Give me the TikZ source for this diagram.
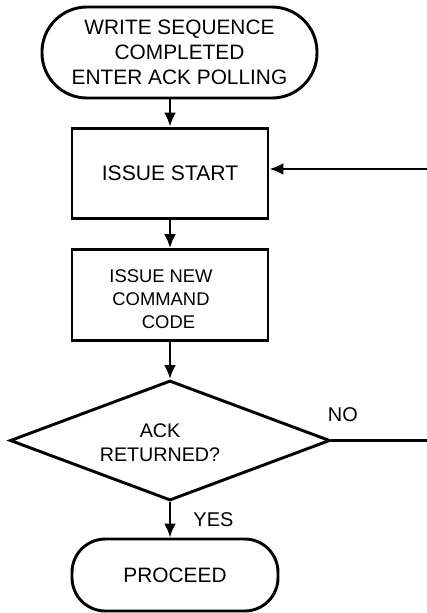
\documentclass[tikz,border=0pt]{standalone}
\usepackage{fontspec}
\setmainfont{Liberation Sans}
\usetikzlibrary{shapes.geometric,arrows.meta}

\tikzset{
	terminal/.style={draw, rectangle, align=center},
	process/.style={draw, rectangle, minimum width=5.88cm, minimum height=2.72cm},
	decision/.style={draw, diamond, inner sep=0pt, minimum width=9.6cm, minimum height=3.6cm},
	answer/.style={inner sep=0pt, font=\fontsize{17}{20}\selectfont},
}

\begin{document}
\begin{tikzpicture}[x=0.03cm,y=-0.03cm, line width=2.5pt, >={Latex[length=0.42cm,width=0.36cm]}]
	\useasboundingbox (0,0) rectangle (427,613);
	\node[terminal, rounded corners=1.35cm, minimum width=8.25cm, minimum height=2.73cm, font=\fontsize{17.8}{21.3}\selectfont] (start) at (179.5,52.5) {WRITE SEQUENCE\\COMPLETED\\ENTER ACK POLLING};
	\node[process, font=\fontsize{18}{21}\selectfont] (issue) at (170,173.5) {ISSUE START};
	\node[process] (newcmd) at (170,295) {};
	\node[align=center, font=\fontsize{15.7}{19.6}\selectfont] (cmdtext) at (161,299) {ISSUE NEW\\COMMAND\\\hspace*{0.45cm}CODE};
	\node[decision] (ack) at (170,440.5) {};
	\node[align=center, font=\fontsize{16.8}{20.5}\selectfont] (acktext) at (160,443) {ACK\\RETURNED?};
	\node[terminal, rounded corners=1cm, minimum width=6.18cm, minimum height=2.16cm, font=\fontsize{17.8}{21}\selectfont] (proceed) at (175,575) {PROCEED};
	\coordinate (loopin) at (427,169);
	\coordinate (noend) at (427,440.5);

	\draw[->] (start.south -| issue.north) -- (issue.north);
	\draw[->] (issue) -- (newcmd);
	\draw[->] (newcmd) -- (ack);
	\draw[->] (ack.south) -- node[answer, anchor=west, xshift=0.66cm] {YES} (ack.south |- proceed.north);
	\draw (ack.east) -- node[answer, pos=0, anchor=south west, xshift=-0.15cm, yshift=0.51cm] {NO} (noend);
	\draw[->] (loopin) -- (loopin -| issue.east);
\end{tikzpicture}
\end{document}
